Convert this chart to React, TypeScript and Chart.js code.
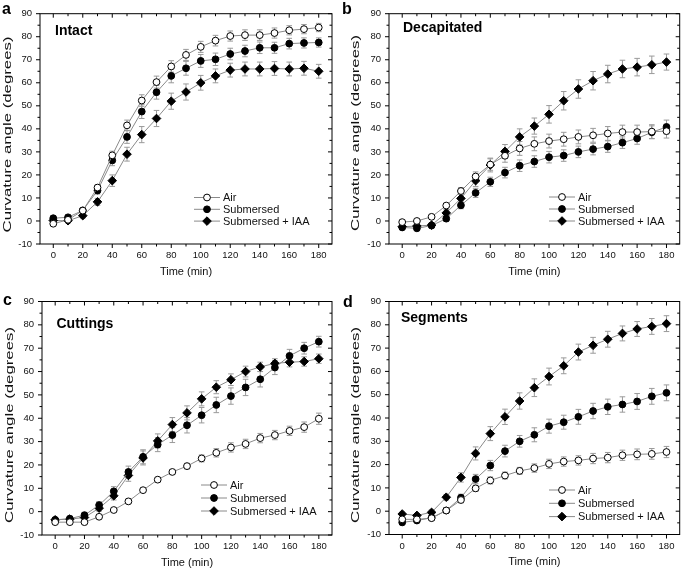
import React, { useEffect, useRef } from 'react';
import { Chart, registerables } from 'chart.js';

Chart.register(...registerables);

// ---------- data ----------
const times = [0, 10, 20, 30, 40, 50, 60, 70, 80, 90, 100, 110, 120, 130, 140, 150, 160, 170, 180];
const xTicks = [0, 20, 40, 60, 80, 100, 120, 140, 160, 180];
const xMinorTicks = [10, 30, 50, 70, 90, 110, 130, 150, 170];
const yTicks = [-10, 0, 10, 20, 30, 40, 50, 60, 70, 80, 90];
const yMinorTicks = [-5, 5, 15, 25, 35, 45, 55, 65, 75, 85];
const seriesLabels = ['Air', 'Submersed', 'Submersed + IAA'];
const panelLetters = ['a', 'b', 'c', 'd'];
const panelNames = ['Intact', 'Decapitated', 'Cuttings', 'Segments'];

// a – Intact
const intactAir = [-1.2, 0.5, 4.5, 14.5, 28.5, 41.5, 52.3, 60.3, 67.1, 72.1, 75.6, 78.3, 80.3, 80.7, 80.7, 81.6, 82.8, 83.3, 84.0];
const intactAirErr = [0.8, 0.8, 1.0, 1.2, 1.8, 2.3, 2.5, 2.6, 2.5, 2.4, 2.4, 2.3, 2.2, 2.3, 2.3, 2.2, 2.0, 2.0, 1.8];
const intactSub = [1.2, 1.6, 4.6, 13.2, 26.3, 36.5, 47.5, 55.9, 63.0, 66.3, 69.5, 70.2, 72.5, 73.8, 75.2, 75.2, 77.0, 77.3, 77.5];
const intactSubErr = [1.0, 1.0, 1.0, 1.5, 2.3, 2.8, 3.0, 3.0, 3.0, 3.0, 2.8, 2.7, 2.5, 2.5, 2.5, 2.4, 2.3, 2.2, 2.0];
const intactIaa = [0.2, 0.1, 2.3, 8.3, 17.5, 29.0, 37.5, 44.5, 52.0, 56.0, 60.0, 63.0, 65.5, 66.0, 66.0, 66.2, 66.0, 66.3, 65.0];
const intactIaaErr = [1.0, 1.0, 1.0, 1.5, 2.5, 3.0, 3.5, 3.5, 3.5, 3.5, 3.2, 3.0, 3.0, 3.0, 3.0, 3.0, 3.0, 3.0, 3.0];

// b – Decapitated
const decapAir = [-0.5, 0.0, 1.8, 6.7, 13.0, 19.3, 24.5, 28.3, 31.5, 33.5, 34.7, 35.5, 36.5, 37.2, 38.0, 38.6, 38.6, 38.8, 39.0];
const decapAirErr = [0.8, 0.8, 0.8, 1.0, 1.5, 2.0, 2.5, 2.8, 3.0, 3.0, 3.0, 3.0, 3.0, 3.0, 3.0, 3.0, 3.0, 3.0, 3.0];
const decapSub = [-2.8, -3.2, -2.0, 1.0, 6.8, 12.2, 17.0, 21.0, 24.0, 25.8, 27.7, 28.4, 30.0, 31.2, 32.3, 34.0, 35.8, 38.5, 40.8];
const decapSubErr = [1.0, 1.0, 1.0, 1.2, 1.5, 2.0, 2.0, 2.3, 2.5, 2.5, 2.5, 2.5, 2.5, 2.5, 2.5, 2.5, 2.5, 2.8, 3.0];
const decapIaa = [-2.5, -2.2, -1.8, 3.5, 9.8, 17.5, 24.3, 30.2, 36.5, 41.2, 46.3, 52.2, 57.3, 60.9, 63.8, 66.0, 66.8, 67.8, 69.0];
const decapIaaErr = [1.0, 1.0, 1.0, 1.5, 2.0, 2.5, 3.0, 3.0, 3.5, 3.5, 3.8, 4.0, 4.0, 4.0, 3.8, 3.8, 3.8, 3.8, 3.5];

// c – Cuttings
const cutAir = [-4.5, -4.5, -4.5, -2.2, 0.7, 4.4, 9.2, 13.7, 17.0, 19.5, 22.8, 25.2, 27.5, 29.0, 31.5, 32.8, 34.6, 36.2, 39.8];
const cutAirErr = [0.8, 0.8, 0.8, 0.8, 0.8, 1.0, 1.0, 1.0, 1.0, 1.2, 1.5, 1.8, 2.0, 2.0, 2.0, 2.0, 2.0, 2.2, 2.4];
const cutSub = [-3.5, -3.0, -1.5, 2.8, 8.7, 17.0, 23.5, 28.7, 32.8, 37.0, 41.3, 45.7, 49.5, 53.2, 56.7, 61.7, 66.7, 70.0, 72.8];
const cutSubErr = [1.0, 1.0, 1.2, 1.5, 2.0, 2.5, 3.0, 3.0, 3.2, 3.3, 3.3, 3.3, 3.5, 3.5, 3.3, 3.0, 2.8, 2.5, 2.3];
const cutIaa = [-3.5, -3.2, -2.5, 1.5, 6.8, 15.5, 23.0, 30.3, 37.3, 42.3, 48.3, 53.3, 56.5, 60.0, 62.0, 63.5, 64.0, 64.3, 65.5];
const cutIaaErr = [1.0, 1.0, 1.0, 1.3, 1.8, 2.5, 3.0, 3.0, 3.0, 3.0, 3.0, 2.8, 2.5, 2.3, 2.0, 2.0, 2.0, 2.0, 2.0];

// d – Segments
const segAir = [-3.5, -3.5, -3.0, 0.3, 4.8, 9.8, 13.2, 15.3, 17.3, 18.5, 20.3, 21.3, 21.8, 22.6, 23.0, 24.0, 24.4, 24.6, 25.4];
const segAirErr = [0.8, 0.8, 0.8, 1.0, 1.2, 1.3, 1.5, 1.5, 1.5, 1.8, 2.0, 2.0, 2.0, 2.2, 2.2, 2.2, 2.3, 2.3, 2.4];
const segSub = [-4.8, -4.0, -2.8, 0.3, 5.8, 13.8, 19.6, 25.8, 30.0, 32.8, 36.5, 38.2, 40.5, 43.0, 44.8, 45.8, 47.1, 49.3, 50.8];
const segSubErr = [1.0, 1.0, 1.0, 1.2, 1.5, 2.0, 2.2, 2.5, 2.5, 3.0, 3.0, 3.0, 3.2, 3.3, 3.3, 3.3, 3.4, 3.4, 3.4];
const segIaa = [-1.2, -1.8, -0.5, 6.0, 14.5, 24.8, 33.3, 40.5, 47.3, 53.0, 57.8, 62.4, 68.3, 71.2, 73.8, 76.3, 78.2, 79.3, 80.5];
const segIaaErr = [0.8, 0.8, 1.0, 1.2, 2.0, 2.8, 3.0, 3.3, 3.5, 3.8, 3.6, 3.4, 3.4, 3.4, 3.4, 3.2, 3.2, 3.4, 3.4];

const panelValues = [
  [intactAir, intactSub, intactIaa],
  [decapAir, decapSub, decapIaa],
  [cutAir, cutSub, cutIaa],
  [segAir, segSub, segIaa],
];
const panelErrors = [
  [intactAirErr, intactSubErr, intactIaaErr],
  [decapAirErr, decapSubErr, decapIaaErr],
  [cutAirErr, cutSubErr, cutIaaErr],
  [segAirErr, segSubErr, segIaaErr],
];

// ---------- layout (positions/styles) ----------
type Layout = {
  left: number; top: number; w: number; h: number;
  L: number; R: number; T: number; B: number;
  letter: [number, number]; name: [number, number];
  ytitle: [number, number];
  legend: [number, number, number];
};
const layouts: Layout[] = [
  { left: 0, top: 0, w: 340, h: 285, L: 40, R: 332, T: 10, B: 244, letter: [2, 13.5], name: [55, 35], ytitle: [7.5, 134.5], legend: [207, 197.5, 11.8] },
  { left: 340, top: 0, w: 345, h: 285, L: 49, R: 342, T: 10, B: 244, letter: [2, 14], name: [63, 32], ytitle: [15.7, 133], legend: [222, 197, 12] },
  { left: 0, top: 285, w: 340, h: 287, L: 42, R: 332, T: 16.5, B: 250, letter: [3, 20], name: [56.5, 43], ytitle: [10, 140], legend: [214, 200, 13] },
  { left: 340, top: 285, w: 345, h: 287, L: 49, R: 342, T: 16.5, B: 249.5, letter: [3, 21.5], name: [61, 37.3], ytitle: [15.5, 140], legend: [222, 205, 13.3] },
];

const FONT = '"Liberation Sans", Arial, Helvetica, sans-serif';
const LINE_COLOR = '#8a8a8a';
const ERR_COLOR = '#9a9a9a';

function drawMarker(ctx: CanvasRenderingContext2D, k: number, x: number, y: number) {
  ctx.save();
  ctx.lineWidth = 1;
  ctx.strokeStyle = '#000';
  ctx.beginPath();
  if (k === 2) {
    const r = 4.3;
    ctx.moveTo(x, y - r);
    ctx.lineTo(x + r, y);
    ctx.lineTo(x, y + r);
    ctx.lineTo(x - r, y);
    ctx.closePath();
    ctx.fillStyle = '#000';
  } else {
    ctx.arc(x, y, 3.4, 0, Math.PI * 2);
    ctx.fillStyle = k === 0 ? '#fff' : '#000';
  }
  ctx.fill();
  ctx.stroke();
  ctx.restore();
}

function makeConfig(idx: number): any {
  const lay = layouts[idx];
  const values = panelValues[idx];
  const errors = panelErrors[idx];

  const errorBars = {
    id: 'errorBars' + idx,
    beforeDatasetsDraw(chart: any) {
      const ctx = chart.ctx as CanvasRenderingContext2D;
      const ys = chart.scales.y;
      ctx.save();
      ctx.strokeStyle = ERR_COLOR;
      ctx.lineWidth = 1;
      values.forEach((vals, di) => {
        const meta = chart.getDatasetMeta(di);
        meta.data.forEach((pt: any, i: number) => {
          const x = pt.x;
          const y1 = ys.getPixelForValue(vals[i] + errors[di][i]);
          const y2 = ys.getPixelForValue(vals[i] - errors[di][i]);
          ctx.beginPath();
          ctx.moveTo(x, y1); ctx.lineTo(x, y2);
          ctx.moveTo(x - 2.8, y1); ctx.lineTo(x + 2.8, y1);
          ctx.moveTo(x - 2.8, y2); ctx.lineTo(x + 2.8, y2);
          ctx.stroke();
        });
      });
      ctx.restore();
    },
  };

  const decorations = {
    id: 'decor' + idx,
    afterDraw(chart: any) {
      const ctx = chart.ctx as CanvasRenderingContext2D;
      const { left, right, top, bottom } = chart.chartArea;
      const xs = chart.scales.x;
      const ys = chart.scales.y;
      ctx.save();
      // frame
      ctx.strokeStyle = '#000';
      ctx.lineWidth = 1;
      ctx.strokeRect(left, top, right - left, bottom - top);
      // ticks
      ctx.beginPath();
      const xt = (v: number, len: number) => {
        const px = xs.getPixelForValue(v);
        ctx.moveTo(px, bottom); ctx.lineTo(px, bottom + len);
        ctx.moveTo(px, top); ctx.lineTo(px, top + len);
      };
      xTicks.forEach(v => xt(v, 4));
      xMinorTicks.forEach(v => xt(v, 2.5));
      const yt = (v: number, len: number) => {
        const py = ys.getPixelForValue(v);
        ctx.moveTo(left, py); ctx.lineTo(left - len, py);
        ctx.moveTo(right, py); ctx.lineTo(right - len, py);
      };
      yTicks.forEach(v => yt(v, 4));
      yMinorTicks.forEach(v => yt(v, 2.5));
      ctx.stroke();

      // legend
      const [mx, ly, dy] = lay.legend;
      ctx.font = `11px ${FONT}`;
      ctx.textBaseline = 'middle';
      ctx.textAlign = 'left';
      seriesLabels.forEach((lab, k) => {
        const y = ly + k * dy;
        ctx.strokeStyle = LINE_COLOR;
        ctx.beginPath();
        ctx.moveTo(mx - 13, y); ctx.lineTo(mx + 13, y);
        ctx.stroke();
        drawMarker(ctx, k, mx, y);
        ctx.fillStyle = '#111';
        ctx.fillText(lab, mx + 16, y + 0.5);
      });

      // panel letter & name
      ctx.fillStyle = '#000';
      ctx.textBaseline = 'alphabetic';
      ctx.font = `bold 16px ${FONT}`;
      ctx.fillText(panelLetters[idx], lay.letter[0], lay.letter[1]);
      ctx.font = `bold 14px ${FONT}`;
      ctx.fillText(panelNames[idx], lay.name[0], lay.name[1]);

      // y axis title (stretched as in the original)
      const t = 'Curvature angle (degrees)';
      ctx.font = `11px ${FONT}`;
      const w = ctx.measureText(t).width;
      ctx.translate(lay.ytitle[0], lay.ytitle[1]);
      ctx.rotate(-Math.PI / 2);
      ctx.scale(196 / w, 1);
      ctx.textAlign = 'center';
      ctx.textBaseline = 'middle';
      ctx.fillStyle = '#111';
      ctx.fillText(t, 0, 0);
      ctx.restore();
    },
  };

  return {
    type: 'line',
    data: {
      datasets: values.map((vals, k) => ({
        label: seriesLabels[k],
        data: times.map((t, i) => ({ x: t, y: vals[i] })),
        borderColor: LINE_COLOR,
        borderWidth: 1,
        pointStyle: k === 2 ? 'rectRot' : 'circle',
        pointRadius: k === 2 ? 4.3 : 3.4,
        pointBackgroundColor: k === 0 ? '#fff' : '#000',
        pointBorderColor: '#000',
        pointBorderWidth: 1,
        tension: 0,
        fill: false,
      })),
    },
    options: {
      animation: false,
      responsive: false,
      events: [],
      layout: { padding: { left: 0, right: lay.w - lay.R, top: lay.T, bottom: 0 } },
      plugins: { legend: { display: false }, tooltip: { enabled: false }, title: { display: false } },
      scales: {
        x: {
          type: 'linear',
          min: -9,
          max: 189,
          grid: { display: false, drawTicks: false },
          border: { display: false },
          afterBuildTicks: (s: any) => { s.ticks = xTicks.map(v => ({ value: v })); },
          afterFit: (s: any) => { s.height = lay.h - lay.B; },
          ticks: { font: { family: FONT, size: 9.5 }, color: '#111', padding: 6, maxRotation: 0, autoSkip: false },
          title: {
            display: true,
            text: 'Time (min)',
            color: '#111',
            font: { family: FONT, size: 11 },
            padding: { top: 0, bottom: Math.max(0, lay.h - lay.B - 27.7 - 6.6) },
          },
        },
        y: {
          type: 'linear',
          min: -10,
          max: 90,
          grid: { display: false, drawTicks: false },
          border: { display: false },
          afterBuildTicks: (s: any) => { s.ticks = yTicks.map(v => ({ value: v })); },
          afterFit: (s: any) => { s.width = lay.L; },
          ticks: { font: { family: FONT, size: 9.5 }, color: '#111', padding: 8, autoSkip: false },
          title: { display: false },
        },
      },
    },
    plugins: [errorBars, decorations],
  };
}

function Panel({ idx }: { idx: number }) {
  const ref = useRef<HTMLCanvasElement>(null);
  const lay = layouts[idx];
  useEffect(() => {
    if (!ref.current) return;
    const chart = new Chart(ref.current, makeConfig(idx));
    return () => chart.destroy();
  }, [idx]);
  return (
    <div style={{ position: 'absolute', left: lay.left, top: lay.top, width: lay.w, height: lay.h }}>
      <canvas ref={ref} width={lay.w} height={lay.h} style={{ display: 'block', width: lay.w, height: lay.h }} />
    </div>
  );
}

export default function App() {
  return (
    <div style={{ position: 'absolute', left: 0, top: 0, width: 685, height: 572, background: '#fff', overflow: 'hidden' }}>
      {layouts.map((_, i) => <Panel key={i} idx={i} />)}
    </div>
  );
}
